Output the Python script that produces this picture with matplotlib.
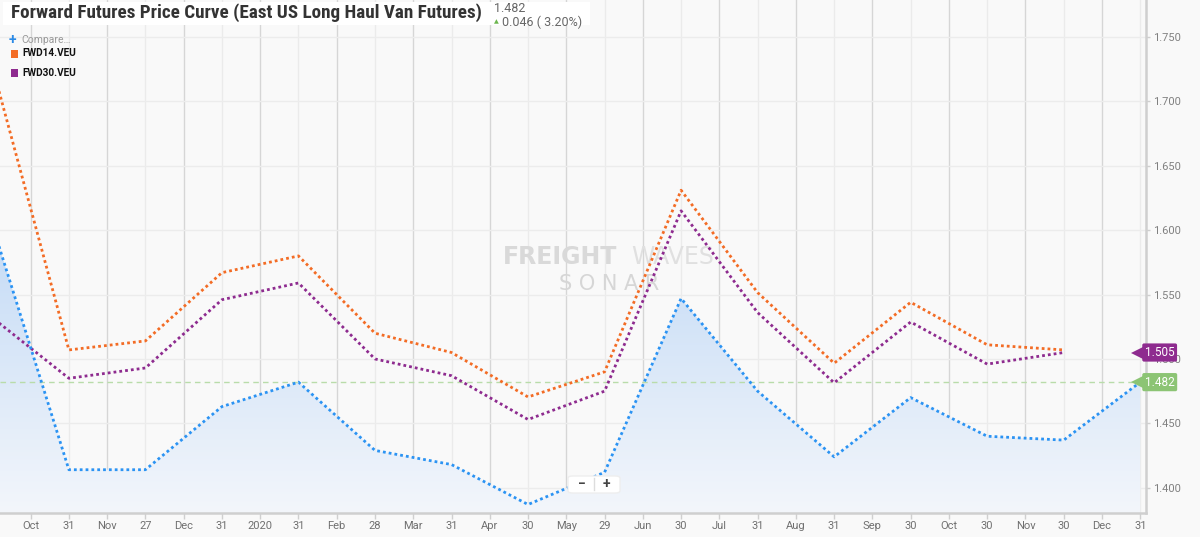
import numpy as np
import matplotlib
matplotlib.use("Agg")
import matplotlib.pyplot as plt
from matplotlib.patches import Rectangle, FancyBboxPatch
from matplotlib.ticker import FixedLocator, FuncFormatter
from matplotlib.colors import LinearSegmentedColormap
from matplotlib import font_manager as fm

# ---------------- data ----------------
tick_labels = ["Oct", "31", "Nov", "27", "Dec", "31", "2020", "31", "Feb", "28",
               "Mar", "31", "Apr", "30", "May", "29", "Jun", "30", "Jul", "31",
               "Aug", "31", "Sep", "30", "Oct", "30", "Nov", "30", "Dec", "31"]
point_dates = ["2019-09-30", "2019-10-31", "2019-11-27", "2019-12-31", "2020-01-31",
               "2020-02-28", "2020-03-31", "2020-04-30", "2020-05-29", "2020-06-30",
               "2020-07-31", "2020-08-31", "2020-09-30", "2020-10-30", "2020-11-30",
               "2020-12-31"]
main_values = [1.604, 1.414, 1.414, 1.463, 1.482, 1.429, 1.418, 1.387, 1.412, 1.547,
               1.475, 1.424, 1.470, 1.440, 1.437, 1.482]
fwd14_values = [1.727, 1.507, 1.514, 1.567, 1.580, 1.520, 1.505, 1.4705, 1.490, 1.631,
                1.5515, 1.4967, 1.544, 1.511, 1.507]
fwd30_values = [1.532, 1.485, 1.493, 1.546, 1.559, 1.500, 1.487, 1.453, 1.475, 1.615,
                1.536, 1.4815, 1.5287, 1.496, 1.505]
y_ticks = [1.400, 1.450, 1.500, 1.550, 1.600, 1.650, 1.700, 1.750]
last_value = 1.482
change_text = "0.046 ( 3.20%)"
title_text = "Forward Futures Price Curve (East US Long Haul Van Futures)"

# ---------------- style ----------------
BLUE = "#2b93f3"
ORANGE = "#f36c25"
PURPLE = "#8e2b8f"
GREEN_TAG = "#8cc474"
BG = "#f9f9f9"

plt.rcParams['font.family'] = ['Roboto', 'DejaVu Sans']

# pick a condensed bold face for the title if one is installed
title_fp = None
for f in fm.fontManager.ttflist:
    fn = f.fname.lower()
    if ("narrow" in fn or "condensed" in fn) and "bold" in fn and "oblique" not in fn \
            and "italic" not in fn:
        if title_fp is None or "roboto" in fn or "liberation" in fn:
            title_fp = fm.FontProperties(fname=f.fname)
if title_fp is None:
    title_fp = fm.FontProperties(family="Roboto", weight="bold")

W, H = 1200, 537
fig = plt.figure(figsize=(W / 100, H / 100), dpi=100, facecolor=BG)
ax = fig.add_axes([0, 1 - 513 / H, 1146 / W, 513 / H])
ax.set_facecolor(BG)

x_main = np.arange(len(main_values)) * 2 - 1
x_fwd14 = np.arange(len(fwd14_values)) * 2 - 1
x_fwd30 = np.arange(len(fwd30_values)) * 2 - 1

XL = (-0.80, 29.15)
YL = (1.3804, 1.7787)

# grid
for i in range(len(tick_labels)):
    ax.axvline(i, color="#d6d6d6" if i % 2 == 0 else "#ebebeb", lw=1, zorder=0)
for v in y_ticks:
    ax.axhline(v, color="#ececec", lw=1, zorder=0)

# gradient fill under the main series
poly = ax.fill_between(x_main, main_values, YL[0], color="none", zorder=1)
grad = np.linspace(0, 1, 256).reshape(-1, 1)
cmap = LinearSegmentedColormap.from_list("g", ["#c4dbf6", "#f3f6fb"])
im = ax.imshow(grad, cmap=cmap, aspect="auto",
               extent=[-1, 30, YL[0], 1.60], origin="upper", zorder=1)
im.set_clip_path(poly.get_paths()[0], transform=ax.transData)
ax.set_xlim(*XL)
ax.set_ylim(*YL)

# last value dashed line
ax.axhline(last_value, color="#b9dcaa", lw=1, ls=(0, (4, 3)), zorder=2)

# watermark (behind the lines)
ax.text(503 / W, 1 - 257 / H, "FREIGHT", transform=fig.transFigure, fontsize=17,
        fontweight="black", color="#d9d9d9", va="center", ha="left",
        family=["DejaVu Sans"], zorder=1.5)
ax.text(631 / W, 1 - 257 / H, "WAVES", transform=fig.transFigure, fontsize=17,
        fontweight="normal", color="#e0e0e0", va="center", ha="left",
        family=["DejaVu Sans"], zorder=1.5)
ax.text(609 / W, 1 - 284 / H, "S O N A R", transform=fig.transFigure, fontsize=15,
        color="#d6d6d6", va="center", ha="center", family=["DejaVu Sans"],
        fontweight="normal", zorder=1.5)

dot = (0, (1, 1.1))
ax.plot(x_fwd14, fwd14_values, color=ORANGE, lw=2, ls=dot, dash_capstyle="butt", zorder=3)
ax.plot(x_fwd30, fwd30_values, color=PURPLE, lw=2, ls=dot, dash_capstyle="butt", zorder=3)
ax.plot(x_main, main_values, color=BLUE, lw=2, ls=dot, dash_capstyle="butt", zorder=4)

# axes
for s in ["top", "left"]:
    ax.spines[s].set_visible(False)
for s in ["right", "bottom"]:
    ax.spines[s].set_color("#cfcfcf")
    ax.spines[s].set_linewidth(1.8)
ax.yaxis.tick_right()
ax.yaxis.set_major_locator(FixedLocator(y_ticks))
ax.yaxis.set_major_formatter(FuncFormatter(lambda v, p: f"{v:.3f}"))
ax.xaxis.set_major_locator(FixedLocator(range(len(tick_labels))))
ax.set_xticklabels(tick_labels)
ax.tick_params(axis="x", colors="#cfcfcf", labelcolor="#707070", labelsize=8,
               length=4, width=1, pad=1.5)
ax.tick_params(axis="y", colors="#cfcfcf", labelcolor="#808080", labelsize=8,
               length=3, width=1, pad=2)


def tag(v, color, text):
    ax.plot([28.93], [v], marker="<", ms=10, color=color, clip_on=False, zorder=6,
            markeredgewidth=0)
    ax.text(29.12, v, text, color="white", fontsize=8.5, va="center", ha="left",
            clip_on=False, zorder=7,
            bbox=dict(boxstyle="round,pad=0.22,rounding_size=0.15", fc=color, ec="none"))


tag(fwd30_values[-1], PURPLE, f"{fwd30_values[-1]:.3f}")
tag(last_value, GREEN_TAG, f"{last_value:.3f}")


# ---------------- texts ----------------
def fx(px):
    return px / W


def fy(py):
    return 1 - py / H


fig.patches.append(Rectangle((fx(3), fy(25)), fx(590) - fx(3), 23 / H,
                             transform=fig.transFigure, fc="white", ec="none", zorder=5))
t = fig.text(fx(11), fy(13), title_text, fontproperties=title_fp,
             fontsize=14, color="#333333", va="center", ha="left", zorder=6)
# fit title width to the reference (about 472 px)
r = fig.canvas.get_renderer()
wpx = t.get_window_extent(r).width
t.set_fontsize(14 * 472 / wpx)

fig.text(fx(494), fy(9), f"{last_value:.3f}", fontsize=9, color="#666666",
         va="center", ha="left", zorder=6)
fig.text(fx(494), fy(22), "\u25b2", fontsize=4.5, color="#6cb64e",
         va="center", ha="left", zorder=6, family=["DejaVu Sans"])
fig.text(fx(502), fy(22), change_text, fontsize=9, color="#666666",
         va="center", ha="left", zorder=6)

# legend
fig.text(fx(9), fy(39.5), "+", fontsize=10, color="#2b8ae6", fontweight="bold",
         va="center", ha="left")
fig.text(fx(21.5), fy(39.5), "Compare\u2026", fontsize=7.5, color="#999999",
         va="center", ha="left")
for yy, col, name in [(53.5, ORANGE, "FWD14.VEU"), (73, PURPLE, "FWD30.VEU")]:
    fig.patches.append(Rectangle((fx(10.7), fy(yy + 4)), fx(7.6), 8 / H,
                                 transform=fig.transFigure, fc=col, ec="none"))
    fig.text(fx(22.5), fy(yy), name, fontsize=7.2, color="#111111", fontweight="bold",
             va="center", ha="left")

# zoom buttons
fig.patches.append(FancyBboxPatch((fx(568), fy(493)), fx(52), 17 / H,
                                  boxstyle="round,pad=0,rounding_size=0.004",
                                  transform=fig.transFigure, fc="white", ec="#eeeeee",
                                  zorder=8))
fig.text(fx(582), fy(484), "\u2212", fontsize=10, color="#444444", fontweight="bold",
         va="center", ha="center", zorder=9)
fig.text(fx(606), fy(484), "+", fontsize=10, color="#444444", fontweight="bold",
         va="center", ha="center", zorder=9)
fig.lines.append(plt.Line2D([fx(594), fx(594)], [fy(478), fy(490)],
                            transform=fig.transFigure, color="#dddddd", lw=1, zorder=9))

fig.savefig("out.png", dpi=100, facecolor=BG)
